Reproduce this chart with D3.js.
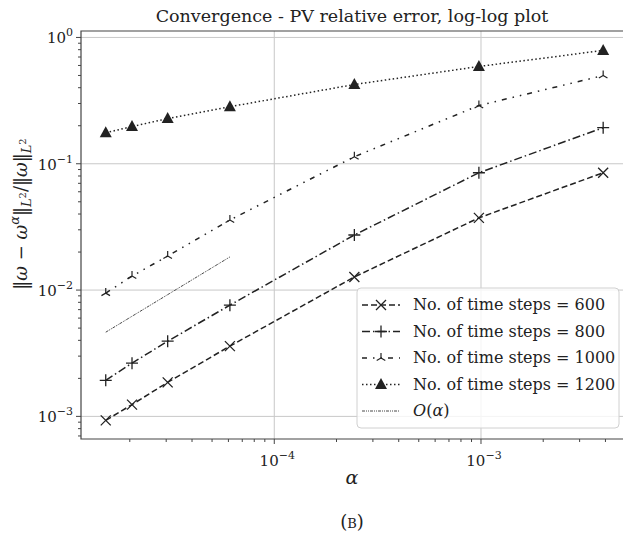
<!DOCTYPE html>
<html lang="en">
<head>
<meta charset="UTF-8">
<title>Convergence - PV relative error</title>
<script src="https://cdn.jsdelivr.net/npm/d3@7/dist/d3.min.js"></script>
<style>
    body { margin: 0; background: #fff; }
    text { font-family: "DejaVu Serif", "Liberation Serif", serif; fill: #222; }
</style>
</head>
<body>
<svg width="623" height="534"></svg>
<script>
    // alpha values (x), shared by every series
    var alphas = [1.53e-5, 2.05e-5, 3.05e-5, 6.1e-5, 2.44e-4, 9.77e-4, 3.9e-3];
    // relative error for each number of time steps
    var err600 = [0.00093, 0.00124, 0.00186, 0.0036, 0.0127, 0.0373, 0.0849];
    var err800 = [0.00193, 0.00264, 0.00394, 0.0076, 0.0273, 0.0849, 0.193];
    var err1000 = [0.00946, 0.0129, 0.0186, 0.0359, 0.1137, 0.289, 0.499];
    var err1200 = [0.176, 0.197, 0.228, 0.283, 0.424, 0.589, 0.789];
    // reference slope O(alpha)
    var refAlpha = [1.53e-5, 6.1e-5];
    var refErr = [0.00464, 0.0183];
    var xTicks = [1e-4, 1e-3];
    var xTickLabels = ["-4", "-3"];
    var yTicks = [1e-3, 1e-2, 1e-1, 1];
    var yTickLabels = ["-3", "-2", "-1", "0"];
    var legendLabels = ["No. of time steps = 600", "No. of time steps = 800",
        "No. of time steps = 1000", "No. of time steps = 1200"];

    var svg = d3.select("svg");
    var marge = {top: 31, left: 81, right: 623, bottom: 439};
    var ink = "#222";

    var x = d3.scaleLog().domain([Math.pow(10, -4.935), Math.pow(10, -2.313)])
        .range([marge.left, marge.right]);
    var y = d3.scaleLog().domain([Math.pow(10, -3.179), Math.pow(10, 0.051)])
        .range([marge.bottom, marge.top]);

    svg.append("defs").append("clipPath").attr("id", "clip")
        .append("rect").attr("x", marge.left).attr("y", marge.top)
        .attr("width", marge.right - marge.left).attr("height", marge.bottom - marge.top);

    // grid
    var grid = svg.append("g").attr("stroke", "#c8c8c8").attr("stroke-width", 1);
    xTicks.forEach(function (t) {
        grid.append("line").attr("x1", x(t)).attr("x2", x(t))
            .attr("y1", marge.top).attr("y2", marge.bottom);
    });
    yTicks.forEach(function (t) {
        grid.append("line").attr("y1", y(t)).attr("y2", y(t))
            .attr("x1", marge.left).attr("x2", marge.right);
    });

    // minor ticks
    function minors(lo, hi) {
        var out = [];
        for (var e = Math.floor(Math.log10(lo)); e <= Math.ceil(Math.log10(hi)); e++) {
            for (var m = 1; m < 10; m++) {
                var v = m * Math.pow(10, e);
                if (v >= lo && v <= hi) out.push(v);
            }
        }
        return out;
    }
    var ax = svg.append("g").attr("stroke", "#444").attr("stroke-width", 1);
    minors(x.domain()[0], x.domain()[1]).forEach(function (v) {
        var major = xTicks.indexOf(v) >= 0;
        ax.append("line").attr("x1", x(v)).attr("x2", x(v))
            .attr("y1", marge.bottom).attr("y2", marge.bottom + (major ? 5 : 3));
    });
    minors(y.domain()[0], y.domain()[1]).forEach(function (v) {
        var major = yTicks.some(function (t) { return Math.abs(t - v) / t < 1e-9; });
        ax.append("line").attr("y1", y(v)).attr("y2", y(v))
            .attr("x1", marge.left).attr("x2", marge.left - (major ? 5 : 3));
    });

    // spines
    svg.append("path")
        .attr("d", "M" + marge.right + "," + marge.top + "H" + marge.left + "V" + marge.bottom + "H" + marge.right)
        .attr("fill", "none").attr("stroke", "#444").attr("stroke-width", 1.2);

    // tick labels
    xTicks.forEach(function (t, i) {
        var tx = svg.append("text").attr("x", x(t) + 3).attr("y", marge.bottom + 27)
            .attr("text-anchor", "middle").attr("font-size", 15);
        tx.append("tspan").text("10");
        tx.append("tspan").attr("dy", -7).attr("font-size", 11).text("\u2212" + xTickLabels[i].slice(1));
    });
    yTicks.forEach(function (t, i) {
        var tx = svg.append("text").attr("x", marge.left - 8).attr("y", y(t) + 6)
            .attr("text-anchor", "end").attr("font-size", 15);
        tx.append("tspan").text("10");
        var s = yTickLabels[i] === "0" ? "0" : "\u2212" + yTickLabels[i].slice(1);
        tx.append("tspan").attr("dy", -7).attr("font-size", 11).text(s);
    });

    // series
    var series = [
        {vals: err600, dash: "6,3", marker: "x"},
        {vals: err800, dash: "8,3,1.5,3", marker: "+"},
        {vals: err1000, dash: "5,6,1.5,6,1.5,6", marker: "tri"},
        {vals: err1200, dash: "1.5,2.5", marker: "tri_fill"}
    ];

    function drawMarker(g, type, cx, cy) {
        if (type === "x") {
            g.append("path").attr("d", "M" + (cx - 5) + "," + (cy - 5) + "L" + (cx + 5) + "," + (cy + 5) +
                "M" + (cx - 5) + "," + (cy + 5) + "L" + (cx + 5) + "," + (cy - 5))
                .attr("stroke", ink).attr("stroke-width", 1.3).attr("fill", "none");
        } else if (type === "+") {
            g.append("path").attr("d", "M" + (cx - 6) + "," + cy + "H" + (cx + 6) +
                "M" + cx + "," + (cy - 6) + "V" + (cy + 6))
                .attr("stroke", ink).attr("stroke-width", 1.3).attr("fill", "none");
        } else if (type === "tri") {
            g.append("path").attr("d", "M" + cx + "," + cy + "V" + (cy - 5) +
                "M" + cx + "," + cy + "L" + (cx - 4.3) + "," + (cy + 2.5) +
                "M" + cx + "," + cy + "L" + (cx + 4.3) + "," + (cy + 2.5))
                .attr("stroke", ink).attr("stroke-width", 1.2).attr("fill", "none");
        } else {
            g.append("path").attr("d", "M" + cx + "," + (cy - 6.5) + "L" + (cx + 6) + "," + (cy + 4.5) +
                "L" + (cx - 6) + "," + (cy + 4.5) + "Z").attr("fill", ink);
        }
    }

    var plot = svg.append("g").attr("clip-path", "url(#clip)");
    var line = d3.line().x(function (d) { return x(d[0]); }).y(function (d) { return y(d[1]); });

    // O(alpha) reference
    plot.append("path").datum(d3.zip(refAlpha, refErr)).attr("d", line)
        .attr("fill", "none").attr("stroke", "#333").attr("stroke-width", 0.9)
        .attr("stroke-dasharray", "3,1,1,1,1,1");

    series.forEach(function (s) {
        var pts = d3.zip(alphas, s.vals);
        plot.append("path").datum(pts).attr("d", line)
            .attr("fill", "none").attr("stroke", ink).attr("stroke-width", 1.5)
            .attr("stroke-dasharray", s.dash);
        pts.forEach(function (p) { drawMarker(plot, s.marker, x(p[0]), y(p[1])); });
    });

    // legend
    var lg = svg.append("g");
    lg.append("rect").attr("x", 357).attr("y", 288).attr("width", 262).attr("height", 140)
        .attr("rx", 4).attr("fill", "#fff").attr("fill-opacity", 0.8)
        .attr("stroke", "#d0d0d0").attr("stroke-width", 1);
    var rowY = function (i) { return 305 + i * 26.5; };
    series.forEach(function (s, i) {
        lg.append("line").attr("x1", 362).attr("x2", 400).attr("y1", rowY(i)).attr("y2", rowY(i))
            .attr("stroke", ink).attr("stroke-width", 1.5).attr("stroke-dasharray", s.dash);
        drawMarker(lg, s.marker, 381, rowY(i));
        lg.append("text").attr("x", 413).attr("y", rowY(i) + 5).attr("font-size", 16).text(legendLabels[i]);
    });
    lg.append("line").attr("x1", 362).attr("x2", 400).attr("y1", rowY(4)).attr("y2", rowY(4))
        .attr("stroke", "#333").attr("stroke-width", 0.9).attr("stroke-dasharray", "3,1,1,1,1,1");
    var oa = lg.append("text").attr("x", 413).attr("y", rowY(4) + 5).attr("font-size", 16);
    oa.append("tspan").attr("font-style", "italic").text("O");
    oa.append("tspan").text("(");
    oa.append("tspan").attr("font-style", "italic").text("\u03b1");
    oa.append("tspan").text(")");

    // title and axis labels
    svg.append("text").attr("x", (marge.left + marge.right) / 2).attr("y", 22)
        .attr("text-anchor", "middle").attr("font-size", 17.5)
        .text("Convergence - PV relative error, log-log plot");
    svg.append("text").attr("x", (marge.left + marge.right) / 2).attr("y", 484)
        .attr("text-anchor", "middle").attr("font-size", 19).attr("font-style", "italic").text("\u03b1");
    svg.append("text").attr("x", (marge.left + marge.right) / 2).attr("y", 528)
        .attr("text-anchor", "middle").attr("font-size", 18).attr("font-variant", "small-caps").text("(b)");

    var yl = svg.append("text").attr("transform", "translate(27," + 214 + ") rotate(-90)")
        .attr("text-anchor", "middle").attr("font-size", 18);
    yl.append("tspan").text("\u2016");
    yl.append("tspan").attr("font-style", "italic").text("\u03c9");
    yl.append("tspan").text(" \u2212 ");
    yl.append("tspan").attr("font-style", "italic").text("\u03c9");
    yl.append("tspan").attr("dy", -8).attr("font-size", 13).attr("font-style", "italic").text("\u03b1");
    yl.append("tspan").attr("dy", 8).text("\u2016");
    yl.append("tspan").attr("dy", 4).attr("font-size", 13).attr("font-style", "italic").text("L");
    yl.append("tspan").attr("dy", -5).attr("font-size", 10).text("2");
    yl.append("tspan").attr("dy", 1).text("/\u2016");
    yl.append("tspan").attr("font-style", "italic").text("\u03c9");
    yl.append("tspan").text("\u2016");
    yl.append("tspan").attr("dy", 4).attr("font-size", 13).attr("font-style", "italic").text("L");
    yl.append("tspan").attr("dy", -5).attr("font-size", 10).text("2");
</script>
</body>
</html>
